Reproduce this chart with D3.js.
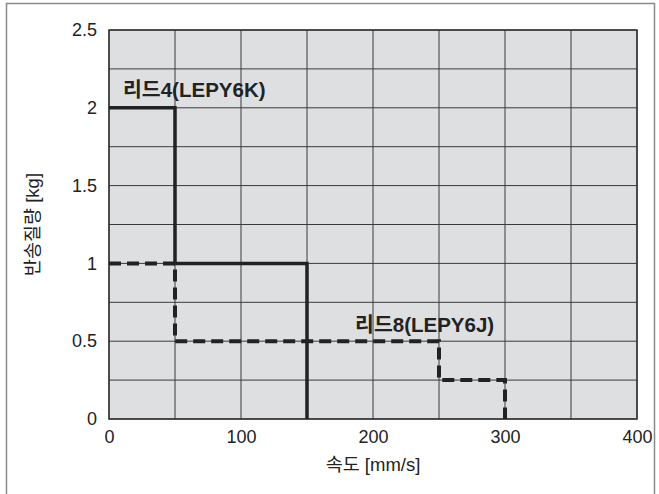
<!DOCTYPE html>
<html>
<head>
<meta charset="utf-8">
<script src="https://cdn.jsdelivr.net/npm/d3@7"></script>
<style>
	body { margin: 0; background: #fff; }
	svg text { font-family: "Liberation Sans", Arial, "Noto Sans CJK KR", sans-serif; fill: #222; }
</style>
</head>
<body>
<svg id="chart" width="659" height="494"></svg>
<script>
// step lines
var lead4 = [[0, 2], [50, 2], [50, 1], [150, 1], [150, 0]];
var lead8 = [[0, 1], [50, 1], [50, 0.5], [250, 0.5], [250, 0.25], [300, 0.25], [300, 0]];
var xTicks = [0, 100, 200, 300, 400];
var yTicks = [0, 0.5, 1, 1.5, 2, 2.5];
var xGrid = d3.range(0, 401, 50);
var yGrid = d3.range(0, 2.51, 0.25);
var labels = [
	{ text: "리드4(LEPY6K)", x: 10.6, y: 2.07 },
	{ text: "리드8(LEPY6J)", x: 186.4, y: 0.56 }
];

var margin = { top: 30, right: 22, bottom: 75, left: 109 };
var width = 659 - margin.left - margin.right;
var height = 494 - margin.top - margin.bottom;

var svg = d3.select("#chart");

// outer frame
svg.append("rect")
	.attr("x", 6.5).attr("y", 3.5)
	.attr("width", 648).attr("height", 520)
	.attr("fill", "none")
	.attr("stroke", "#8a8a8a")
	.attr("stroke-width", 1.5);

var g = svg.append("g")
	.attr("transform", "translate(" + margin.left + "," + margin.top + ")");

var x = d3.scaleLinear().domain([0, 400]).range([0, width]);
var y = d3.scaleLinear().domain([0, 2.5]).range([height, 0]);

g.append("rect")
	.attr("width", width).attr("height", height)
	.attr("fill", "#dedfe1");

g.selectAll(".vgrid").data(xGrid).enter().append("line")
	.attr("x1", function(d) { return x(d); })
	.attr("x2", function(d) { return x(d); })
	.attr("y1", 0).attr("y2", height)
	.attr("stroke", "#3a3a3a").attr("stroke-width", 1);

g.selectAll(".hgrid").data(yGrid).enter().append("line")
	.attr("y1", function(d) { return y(d); })
	.attr("y2", function(d) { return y(d); })
	.attr("x1", 0).attr("x2", width)
	.attr("stroke", "#3a3a3a").attr("stroke-width", 1);

g.append("rect")
	.attr("width", width).attr("height", height)
	.attr("fill", "none")
	.attr("stroke", "#333").attr("stroke-width", 1.5);

var line = d3.line()
	.x(function(d) { return x(d[0]); })
	.y(function(d) { return y(d[1]); });

g.append("path")
	.attr("d", line(lead8))
	.attr("fill", "none")
	.attr("stroke", "#222")
	.attr("stroke-width", 4)
	.attr("stroke-dasharray", "12,6");

g.append("path")
	.attr("d", line(lead4))
	.attr("fill", "none")
	.attr("stroke", "#222")
	.attr("stroke-width", 3.5);

g.selectAll(".lbl").data(labels).enter().append("text")
	.attr("x", function(d) { return x(d.x); })
	.attr("y", function(d) { return y(d.y); })
	.style("font-size", "20.5px")
	.style("font-weight", "bold")
	.text(function(d) { return d.text; });

// tick labels
var xAxis = d3.axisBottom(x).tickValues(xTicks).tickSize(0).tickPadding(11);
g.append("g")
	.attr("transform", "translate(0," + height + ")")
	.call(xAxis)
	.call(function(s) { s.select(".domain").remove(); })
	.selectAll("text")
	.style("font-size", "18px");

var yAxis = d3.axisLeft(y).tickValues(yTicks).tickSize(0).tickPadding(12)
	.tickFormat(d3.format(""));
g.append("g")
	.call(yAxis)
	.call(function(s) { s.select(".domain").remove(); })
	.selectAll("text")
	.style("font-size", "18px");

// axis titles
svg.append("text")
	.attr("x", margin.left + width / 2)
	.attr("y", 471)
	.attr("text-anchor", "middle")
	.style("font-size", "18.5px")
	.text("속도 [mm/s]");

svg.append("text")
	.attr("transform", "translate(39," + (margin.top + height / 2) + ") rotate(-90)")
	.attr("text-anchor", "middle")
	.style("font-size", "18.5px")
	.text("반송질량 [kg]");
</script>
</body>
</html>
